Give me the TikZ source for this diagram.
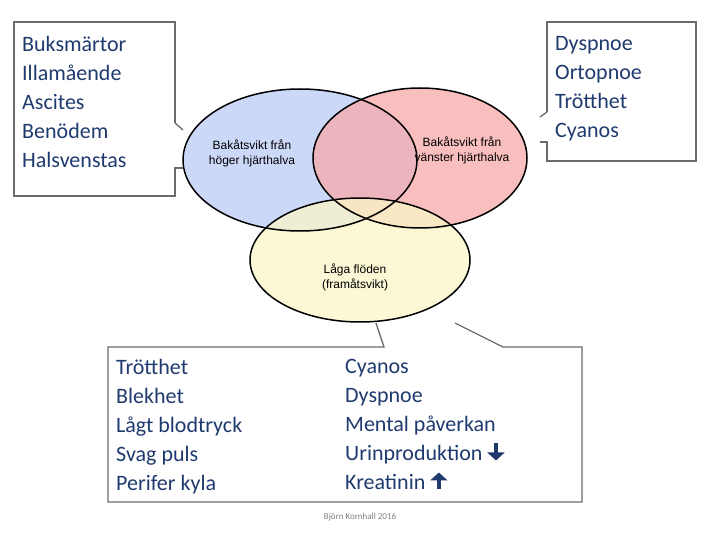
\documentclass[tikz,border=0pt]{standalone}
\usepackage{fontspec}
\usetikzlibrary{arrows.meta}
\setmainfont{Carlito}
\newfontfamily\arialf{Liberation Sans}
\definecolor{txt}{HTML}{1F3A6E}
\definecolor{eblue}{HTML}{CCD8F8}
\definecolor{ered}{HTML}{F7A8A8}
\definecolor{eyel}{HTML}{FBF6C8}
\newcommand{\myarrdown}{\tikz[baseline=-2pt]\draw[txt,line width=4pt,-{Triangle[length=8pt,width=17pt]}] (0,15pt) -- (0,-2pt);}
\newcommand{\myarrup}{\tikz[baseline=-2pt]\draw[txt,line width=4pt,-{Triangle[length=8pt,width=17pt]}] (0,-2pt) -- (0,15pt);}
\begin{document}
\begin{tikzpicture}[x=1pt,y=-1pt,
  box/.style={draw=gray!85!black,line width=1.3pt},
  lst/.style={anchor=north west,align=left,font=\fontsize{22}{29}\selectfont,text=txt,inner sep=0pt},
  lab/.style={font=\arialf\fontsize{12}{15}\selectfont,align=center}]
\useasboundingbox (0,0) rectangle (720,540);
% ellipses
\fill[eblue] (300,160) ellipse (117 and 71);
\fill[ered,opacity=0.75] (420,158) ellipse (107 and 70);
\fill[eyel,opacity=0.75] (360,260) ellipse (110 and 62);
\draw[line width=1.5pt] (300,160) ellipse (117 and 71);
\draw[line width=1.5pt] (420,158) ellipse (107 and 70);
\draw[line width=1.5pt] (360,260) ellipse (110 and 62);
\node[lab] (l1) at (252,153) {Bakåtsvikt från\\höger hjärthalva};
\node[lab] (l2) at (462,150) {Bakåtsvikt från\\vänster hjärthalva};
\node[lab] (l3) at (355,277) {Låga flöden\\(framåtsvikt)};
% boxes
\draw[box] (175,123) -- (183,130);
\draw[box] (183,168) -- (175,168) -- (175,196) -- (14,196) -- (14,22) -- (175,22) -- (175,123);
\draw[box] (547,112) -- (540,117);
\draw[box] (540,142) -- (547,142) -- (547,161) -- (696,161) -- (696,22) -- (547,22) -- (547,112);
\draw[box] (376,323) -- (384,347) -- (108,347) -- (108,502) -- (582,502) -- (582,347) -- (503,347) -- (455,323);
\node[lst] (t1) at (22,36) {Buksmärtor\\Illamående\\Ascites\\Benödem\\Halsvenstas};
\node[lst] (t2) at (555,36) {Dyspnoe\\Ortopnoe\\Trötthet\\Cyanos};
\node[lst] (t3) at (116,359) {Trötthet\\Blekhet\\Lågt blodtryck\\Svag puls\\Perifer kyla};
\node[lst] (t4) at (345,359) {Cyanos\\Dyspnoe\\Mental påverkan\\Urinproduktion \myarrdown\\Kreatinin \myarrup};
\node[font=\fontsize{9}{10}\selectfont,text=gray] (cr) at (360,517) {Björn Kornhall 2016};
\end{tikzpicture}
\end{document}
